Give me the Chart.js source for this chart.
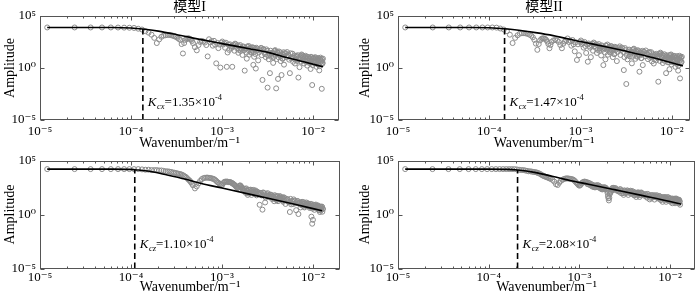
<!DOCTYPE html>
<html><head><meta charset="utf-8">
<script src="https://cdn.jsdelivr.net/npm/chart.js@4.4.1/dist/chart.umd.min.js"></script>
<style>
html,body{margin:0;padding:0;background:#fff;width:700px;height:296px;overflow:hidden;}
canvas{position:absolute;}
</style></head><body>
<canvas id="p1" width="350" height="152" style="left:0;top:0"></canvas>
<canvas id="p2" width="350" height="152" style="left:350px;top:0"></canvas>
<canvas id="p3" width="350" height="148" style="left:0;top:148px"></canvas>
<canvas id="p4" width="350" height="148" style="left:350px;top:148px"></canvas>
<script>
// ---------------- text ----------------
const panelTitles = ['模型I', '模型II', '', ''];
const xAxisTitle = 'Wavenumber/m⁻¹';
const yAxisTitle = 'Amplitude';
const xTickValues = [1e-5, 1e-4, 1e-3, 1e-2];
const xTickLabels = ['10⁻⁵', '10⁻⁴', '10⁻³', '10⁻²'];
const yTickValues = [1e-5, 1, 1e5];
const yTickLabels = ['10⁻⁵', '10⁰', '10⁵'];
const xMinorTicks = [2e-5,3e-5,4e-5,5e-5,6e-5,7e-5,8e-5,9e-5,2e-4,3e-4,4e-4,5e-4,6e-4,7e-4,8e-4,9e-4,2e-3,3e-3,4e-3,5e-3,6e-3,7e-3,8e-3,9e-3];

// ---------------- data ----------------
const wavenumber = [
1.2e-5,2.4e-5,3.6e-5,4.8e-5,6.0e-5,7.2e-5,8.4e-5,9.6e-5,1.08e-4,1.2e-4,
1.32e-4,1.44e-4,1.56e-4,1.68e-4,1.8e-4,1.92e-4,2.04e-4,2.16e-4,2.28e-4,2.4e-4,
2.52e-4,2.64e-4,2.76e-4,2.88e-4,3.0e-4,3.12e-4,3.24e-4,3.36e-4,3.48e-4,3.6e-4,
3.72e-4,3.84e-4,3.96e-4,4.08e-4,4.2e-4,4.32e-4,4.44e-4,4.56e-4,4.68e-4,4.8e-4,
5.04e-4,5.28e-4,5.52e-4,5.76e-4,6.0e-4,6.24e-4,6.48e-4,6.72e-4,6.96e-4,7.2e-4,
7.44e-4,7.68e-4,7.92e-4,8.16e-4,8.4e-4,8.64e-4,8.88e-4,9.12e-4,9.36e-4,9.6e-4,
9.84e-4,1.008e-3,1.032e-3,1.056e-3,1.08e-3,1.104e-3,1.128e-3,1.152e-3,1.176e-3,1.2e-3,
1.224e-3,1.248e-3,1.272e-3,1.296e-3,1.32e-3,1.344e-3,1.368e-3,1.392e-3,1.416e-3,1.44e-3,
1.464e-3,1.488e-3,1.512e-3,1.536e-3,1.56e-3,1.584e-3,1.608e-3,1.632e-3,1.656e-3,1.68e-3,
1.704e-3,1.728e-3,1.752e-3,1.776e-3,1.8e-3,1.824e-3,1.848e-3,1.872e-3,1.896e-3,1.92e-3,
1.944e-3,1.968e-3,1.992e-3,2.016e-3,2.04e-3,2.064e-3,2.088e-3,2.112e-3,2.136e-3,2.16e-3,
2.184e-3,2.208e-3,2.232e-3,2.256e-3,2.28e-3,2.304e-3,2.328e-3,2.352e-3,2.376e-3,2.4e-3,
2.448e-3,2.496e-3,2.544e-3,2.592e-3,2.64e-3,2.688e-3,2.736e-3,2.784e-3,2.832e-3,2.88e-3,
2.928e-3,2.976e-3,3.024e-3,3.072e-3,3.12e-3,3.168e-3,3.216e-3,3.264e-3,3.312e-3,3.36e-3,
3.408e-3,3.456e-3,3.504e-3,3.552e-3,3.6e-3,3.648e-3,3.696e-3,3.744e-3,3.792e-3,3.84e-3,
3.888e-3,3.936e-3,3.984e-3,4.032e-3,4.08e-3,4.128e-3,4.176e-3,4.224e-3,4.272e-3,4.32e-3,
4.368e-3,4.416e-3,4.464e-3,4.512e-3,4.56e-3,4.608e-3,4.656e-3,4.704e-3,4.752e-3,4.8e-3,
4.896e-3,4.992e-3,5.088e-3,5.184e-3,5.28e-3,5.376e-3,5.472e-3,5.568e-3,5.664e-3,5.76e-3,
5.856e-3,5.952e-3,6.048e-3,6.144e-3,6.24e-3,6.336e-3,6.432e-3,6.528e-3,6.624e-3,6.72e-3,
6.816e-3,6.912e-3,7.008e-3,7.104e-3,7.2e-3,7.296e-3,7.392e-3,7.488e-3,7.584e-3,7.68e-3,
7.776e-3,7.872e-3,7.968e-3,8.064e-3,8.16e-3,8.256e-3,8.352e-3,8.448e-3,8.544e-3,8.64e-3,
8.736e-3,8.832e-3,8.928e-3,9.024e-3,9.12e-3,9.216e-3,9.312e-3,9.408e-3,9.504e-3,9.6e-3,
9.696e-3,9.792e-3,9.888e-3,9.984e-3,1.008e-2,1.0176e-2,1.0272e-2,1.0368e-2,1.0464e-2,1.056e-2,
1.0656e-2,1.0752e-2,1.0848e-2,1.0944e-2,1.104e-2,1.1136e-2,1.1232e-2,1.1328e-2,1.1424e-2,1.152e-2,
1.1616e-2,1.1712e-2,1.1808e-2,1.1904e-2,1.2e-2,1.2096e-2,1.2192e-2,1.2288e-2,1.2384e-2,1.248e-2,
1.2576e-2,1.2672e-2,1.2768e-2,1.2864e-2
];

// 模型I (top-left)
const ampModelI_top = [
7.9e3,7.9e3,7.9e3,7.9e3,7.9e3,7.8e3,7.6e3,7.4e3,7.1e3,6.0e3,
5.0e3,3.5e3,2.5e3,1.6e3,7.9e2,2.5e2,5.6e2,1.0e3,1.3e3,1.4e3,
1.5e3,1.5e3,1.4e3,1.3e3,1.1e3,1.0e3,7.9e2,6.3e2,5.0e2,2.0e2,
25,2.5e2,5.0e2,6.3e2,7.1e2,7.1e2,6.3e2,5.2e2,4.0e2,2.5e2,
1.0e2,50,1.6e2,3.2e2,4.0e2,3.5e2,2.8e2,1.6e2,13,5.8e2,
2.9e2,3.8e2,1.4e2,4.1e2,1.8e2,2.8,2.6e2,81,1.8e2,1.1,
2.7e2,3.5e2,1.8e2,2.4e2,89,2.7e2,1.3,31,1.8e2,55,
1.9e2,1.2e2,83,1.3,1.3e2,1.7e2,46,2.2e2,1.9e2,1.1e2,
79,1.5e2,29,54,1.2e2,1.6e2,43,68,78,18,
1.2e2,1.0e2,52,0.56,81,68,30,7.9,1.2e2,1.0e2,
54,1.3e2,19,69,81,91,30,34,55,1.0e2,
87,2.0,37,12,59,66,22,0.89,89,46,
72,5.4,31,66,48,87,17,0.071,69,58,
30,21,11,62,44,0.013,16,6.9,29,0.32,
46,12,19,26,30,3.1,11,40,46,52,
19,0.011,7.2,35,30,0.089,11,39,20,17,
32,4.6,14,0.21,21,8.1,7.9,18,33,2.1,
27,26,11,34,17,17,6.3,0.32,26,8.1,
11,24,4.0,10,16,2.7,5.9,15,11,4.7,
17,0.12,7.2,1.2,11,15,4.1,20,17,10,
7.2,14,2.7,5.0,11,15,4.1,6.5,7.6,1.7,
12,10,5.1,3.2,7.9,6.8,3.0,0.81,12,10,
5.4,0.023,1.9,7.1,8.1,9.5,3.0,3.5,5.6,11,
8.9,4.7,3.9,1.3,6.2,7.1,2.3,2.2,9.3,4.9,
4.1,0.59,1.5,7.6,6.3,10,2.3,5.2,4.4,0.01,
6.9,2.6,3.1,7.9
];
// 模型II (top-right)
const ampModelII_top = [
7.9e3,7.9e3,7.9e3,7.9e3,7.9e3,7.9e3,7.9e3,7.9e3,7.9e3,7.6e3,
6.3e3,5.0e3,3.5e3,1.6e3,2.5e2,7.9e2,1.4e3,2.0e3,2.2e3,2.2e3,
2.1e3,1.9e3,1.6e3,1.3e3,8.9e2,5.0e2,2.2e2,56,2.0e2,4.5e2,
6.3e2,7.1e2,7.1e2,6.3e2,5.0e2,3.5e2,2.0e2,79,1.6e2,3.2e2,
4.5e2,5.0e2,4.5e2,3.2e2,1.6e2,79,2.2e2,3.5e2,4.0e2,6.9e2,
3.2e2,4.4e2,1.4e2,4.9e2,1.9e2,40,3.0e2,5.9,1.9e2,17,
3.2e2,4.4e2,2.0e2,2.8e2,91,3.2e2,1.3e2,28,2.0e2,4.0,
2.3e2,1.3e2,89,11,1.5e2,2.1e2,46,2.8e2,2.3e2,1.3e2,
87,1.8e2,28,56,1.4e2,2.0e2,45,76,89,16,
1.5e2,1.2e2,58,1.9,95,78,31,6.8,1.5e2,1.3e2,
60,1.8e2,19,81,98,1.1e2,32,37,63,1.3e2,
1.1e2,50,42,11,69,83,22,22,1.1e2,55,
91,4.6,35,85,58,1.2e2,18,54,91,74,
35,0.63,11,81,55,0.029,17,6.8,35,50,
59,13,22,32,38,2.8,12,51,62,72,
23,33,7.6,47,38,15,12,52,25,20,
42,0.44,16,33,28,8.9,8.9,22,45,1.9,
36,35,13,48,22,22,7.1,30,35,9.5,
13,33,4.3,13,21,2.7,6.9,20,14,5.4,
23,13,8.9,0.048,15,21,4.8,30,24,13,
9.1,19,3.0,6.0,15,21,4.8,8.3,9.8,0.32,
17,13,6.3,3.6,11,8.9,3.5,0.76,18,14,
6.9,20,2.2,9.5,11,13,3.6,4.4,7.4,15,
13,6.0,4.9,1.3,8.3,9.8,2.7,2.6,14,6.6,
5.4,0.56,1.7,11,8.9,15,2.9,0.1,5.9,10,
10,3.3,3.9,12
];
// 模型I (bottom-left)
const ampModelI_bottom = [
1.6e4,1.6e4,1.6e4,1.6e4,1.6e4,1.6e4,1.6e4,1.6e4,1.6e4,1.6e4,
1.5e4,1.4e4,1.4e4,1.3e4,1.3e4,1.3e4,1.2e4,1.2e4,1.1e4,1.0e4,
1.0e4,9.3e3,8.7e3,7.9e3,7.4e3,6.8e3,6.3e3,5.9e3,5.5e3,5.0e3,
4.4e3,3.6e3,3.2e3,2.6e3,2.0e3,1.6e3,1.3e3,9.5e2,7.1e2,5.0e2,
2.6e2,4.0e2,7.6e2,1.3e3,1.9e3,2.3e3,2.5e3,2.6e3,2.6e3,2.5e3,
2.4e3,2.2e3,2.1e3,1.9e3,1.6e3,1.3e3,1.0e3,8.9e2,7.1e2,6.3e2,
5.4e2,5.6e2,7.9e2,1.0e3,1.1e3,1.1e3,1.1e3,1.1e3,1.0e3,1.0e3,
9.8e2,9.5e2,8.7e2,7.9e2,7.1e2,6.3e2,5.6e2,5.0e2,4.2e2,3.5e2,
3.0e2,2.8e2,3.2e2,4.0e2,4.6e2,5.0e2,4.4e2,3.5e2,3.0e2,2.4e2,
1.9e2,1.6e2,2.2e2,2.5e2,1.3e2,1.0e2,2.6e2,1.6e2,1.7e2,65,
89,1.9e2,1.9e2,98,1.1e2,2.0e2,1.4e2,65,1.8e2,1.1e2,
1.1e2,1.9e2,1.3e2,1.3e2,81,89,1.7e2,1.4e2,1.1e2,59,
1.3e2,93,83,7.9,98,1.0e2,58,2.8,1.1e2,1.0e2,
71,13,37,58,78,95,47,63,58,42,
71,66,44,27,52,44,31,17,62,49,
40,26,21,52,46,17,28,30,35,51,
43,35,27,23,32,37,19,15,40,25,
34,9.5,21,27,25,14,14,1.7,28,8.7,
18,15,9.3,25,19,17,11,2.5,14,18,
17,1.1,11,11,13,4.5,7.8,13,15,6.8,
10,14,5.4,4.5,11,7.9,6.9,13,8.7,9.1,
11,6.2,6.8,9.8,8.1,4.0,4.9,6.5,9.8,0.63,
6.5,0.14,3.5,0.32,7.4,8.1,4.6,2.7,5.8,4.8,
7.2,8.3,4.6,5.6,5.5,3.9,3.4,6.2,6.8,2.6,
4.5,4.2,2.5,1.7,5.2,4.9,3.2,2.6,4.1,5.5,
5.1,1.8,3.3,3.2
];
// 模型II (bottom-right)
const ampModelII_bottom = [
1.6e4,1.6e4,1.6e4,1.6e4,1.6e4,1.6e4,1.6e4,1.6e4,1.6e4,1.6e4,
1.6e4,1.6e4,1.6e4,1.6e4,1.6e4,1.6e4,1.5e4,1.4e4,1.3e4,1.3e4,
1.2e4,1.1e4,1.0e4,1.0e4,9.3e3,8.7e3,8.3e3,7.9e3,7.1e3,6.3e3,
5.5e3,4.6e3,4.0e3,3.5e3,3.2e3,2.9e3,2.7e3,2.5e3,2.2e3,2.0e3,
1.6e3,1.1e3,6.3e2,5.4e2,8.9e2,1.3e3,1.6e3,1.9e3,2.1e3,2.2e3,
2.2e3,2.1e3,2.0e3,1.9e3,1.8e3,1.6e3,1.3e3,1.0e3,7.9e2,6.3e2,
5.0e2,4.7e2,5.6e2,7.6e2,9.3e2,1.0e3,1.1e3,1.1e3,1.0e3,1.0e3,
6.5e2,8.9e2,6.0e2,7.9e2,5.0e2,6.6e2,4.2e2,5.6e2,3.6e2,5.0e2,
3.3e2,4.7e2,3.3e2,5.0e2,3.5e2,5.2e2,3.4e2,4.8e2,3.0e2,4.0e2,
2.6e2,3.5e2,2.2e2,3.0e2,2.1e2,3.2e2,2.3e2,3.3e2,2.3e2,3.2e2,
2.1e2,2.8e2,2.3e2,1.6e2,1.0e2,50,32,20,35,79,
1.0e2,1.3e2,1.3e2,2.2e2,1.8e2,2.8e2,2.0e2,3.0e2,2.0e2,2.8e2,
2.6e2,2.8e2,1.7e2,2.0e2,2.0e2,1.4e2,1.3e2,2.1e2,2.2e2,95,
1.6e2,1.4e2,95,66,1.7e2,1.6e2,1.1e2,95,1.3e2,1.7e2,
1.6e2,65,1.1e2,1.1e2,1.3e2,1.6e2,83,1.2e2,1.5e2,85,
1.0e2,1.3e2,65,59,1.1e2,89,78,42,93,1.0e2,
1.1e2,62,76,1.1e2,89,42,60,71,1.0e2,1.1e2,
93,78,63,55,72,79,47,36,81,55,
58,25,35,60,62,36,41,63,49,24,
58,40,40,62,46,45,30,32,52,48,
38,22,23,33,42,15,28,38,34,23,
40,41,28,15,32,26,21,41,38,30,
28,21,17,32,30,15,20,23,25,11,
30,26,21,16,24,29,16,11,29,19,
21,30,13,22,23,16,16,24,19,11,
23,17,16,8.1
];

// fitted curves
const fitK_I_top = [1.2e-5,6.3e-5,1.0e-4,1.35e-4,2.0e-4,3.2e-4,5.0e-4,1.0e-3,2.0e-3,3.2e-3,5.0e-3,7.9e-3,1.29e-2];
const fitA_I_top = [7.9e3,7.9e3,7.1e3,5.6e3,3.5e3,1.6e3,7.1e2,2.2e2,71,32,11,4.0,1.3];
const fitK_II_top = [1.2e-5,6.3e-5,1.0e-4,1.47e-4,2.0e-4,3.2e-4,5.0e-4,1.0e-3,2.0e-3,3.2e-3,5.0e-3,7.9e-3,1.32e-2];
const fitA_II_top = [7.9e3,7.9e3,7.4e3,6.0e3,4.5e3,2.5e3,1.3e3,3.5e2,1.0e2,40,16,5.6,1.6];
const fitK_I_bottom = [1.2e-5,6.3e-5,1.0e-4,1.1e-4,1.6e-4,2.5e-4,4.0e-4,5.8e-4,1.0e-3,2.5e-3,6.3e-3,1.26e-2];
const fitA_I_bottom = [1.6e4,1.6e4,1.5e4,1.4e4,1.0e4,4.5e3,1.8e3,7.9e2,2.8e2,50,8.9,2.2];
const fitK_II_bottom = [1.2e-5,1.0e-4,1.6e-4,2.08e-4,3.2e-4,5.0e-4,7.9e-4,1.26e-3,2.5e-3,5.0e-3,1.0e-2,1.32e-2];
const fitA_II_bottom = [1.6e4,1.6e4,1.5e4,1.3e4,7.9e3,3.5e3,1.4e3,6.3e2,1.9e2,56,16,8.9];

// cut-off wavenumbers
const kcValues = [1.35e-4, 1.47e-4, 1.10e-4, 2.08e-4];
const kcCurveValues = [5.6e3, 6.0e3, 1.4e4, 1.3e4];
const kcMantissa = ['1.35', '1.47', '1.10', '2.08'];
const kcExponent = ['-4', '-4', '-4', '-4'];
const kcSubscript = ['cx', 'cx', 'cz', 'cz'];

// ---------------- drawing ----------------
const SERIF = "'Liberation Serif', 'DejaVu Serif', serif";
const TITLE_FONT = "'Liberation Serif', 'Noto Sans CJK SC', serif";
const FRAME = '#555555';

const framePlugin = {
  id: 'matFrame',
  afterDatasetsDraw(chart) {
    const {ctx, chartArea: a} = chart;
    const xs = chart.scales.x, ys = chart.scales.y;
    const L = Math.round(a.left) + 0.5, R = Math.round(a.right) - 0.5;
    const T = Math.round(a.top) + 0.5, B = Math.round(a.bottom) - 0.5;
    ctx.save();
    ctx.strokeStyle = FRAME; ctx.lineWidth = 1;
    ctx.strokeRect(L, T, R - L, B - T);
    const seg = (x1, y1, x2, y2) => { ctx.beginPath(); ctx.moveTo(x1, y1); ctx.lineTo(x2, y2); ctx.stroke(); };
    const xmax = xs.max;
    for (const v of xTickValues) {
      if (v > xmax) continue;
      const p = Math.round(xs.getPixelForValue(v)) + 0.5;
      seg(p, B, p, B - 4); seg(p, T, p, T + 4);
    }
    for (const v of xMinorTicks) {
      if (v > xmax) continue;
      const p = Math.round(xs.getPixelForValue(v)) + 0.5;
      seg(p, B, p, B - 2); seg(p, T, p, T + 2);
    }
    for (const v of yTickValues) {
      const p = Math.round(ys.getPixelForValue(v)) + 0.5;
      seg(L, p, L + 4, p); seg(R, p, R - 4, p);
    }
    ctx.restore();
  }
};

const kcLabelPlugin = {
  id: 'kcLabel',
  afterDatasetsDraw(chart, args, o) {
    const {ctx} = chart;
    const xs = chart.scales.x, ys = chart.scales.y;
    let px = xs.getPixelForValue(o.kc) + o.dx;
    const py = ys.getPixelForValue(o.at);
    ctx.save();
    ctx.fillStyle = '#000'; ctx.textAlign = 'left'; ctx.textBaseline = 'alphabetic';
    const parts = [
      ['K', 'italic 13px ' + SERIF, 0],
      [o.sub, 'italic 8.5px ' + SERIF, 3],
      ['=' + o.mant + '×10', '13px ' + SERIF, 0],
      [o.exp, '8.5px ' + SERIF, -6]
    ];
    for (const [t, f, dy] of parts) {
      ctx.font = f; ctx.fillText(t, px, py + dy); px += ctx.measureText(t).width + (t === 'K' ? 0.5 : 0);
    }
    ctx.restore();
  }
};

const panels = [
  {id: 'p1', amp: ampModelI_top, fk: fitK_I_top, fa: fitA_I_top, idx: 0,
   pad: {left: 0, right: 11, top: 0, bottom: 0}, yw: 40, xh: 32, ytp: 1.6, xtp: 4, xmax: 0.0193, at: 2.2e-4},
  {id: 'p2', amp: ampModelII_top, fk: fitK_II_top, fa: fitA_II_top, idx: 1,
   pad: {left: 0, right: 10, top: 0, bottom: 0}, yw: 48, xh: 32, ytp: 7, xtp: 4, xmax: 0.0158, at: 2.2e-4},
  {id: 'p3', amp: ampModelI_bottom, fk: fitK_I_bottom, fa: fitA_I_bottom, idx: 2,
   pad: {left: 0, right: 10, top: 12.5, bottom: 0}, yw: 40, xh: 27.5, ytp: 1.6, xtp: 1, xmax: 0.0198, at: 7.9e-4},
  {id: 'p4', amp: ampModelII_bottom, fk: fitK_II_bottom, fa: fitA_II_bottom, idx: 3,
   pad: {left: 0, right: 3, top: 12.5, bottom: 0}, yw: 48, xh: 27.5, ytp: 7, xtp: 1, xmax: 0.0188, at: 7.9e-4}
];

for (const p of panels) {
  const i = p.idx;
  const title = panelTitles[i];
  new Chart(document.getElementById(p.id), {
    type: 'scatter',
    data: {
      datasets: [
        {type: 'line', data: p.fk.map((k, j) => ({x: k, y: p.fa[j]})), borderColor: '#000', borderWidth: 1.6,
         pointRadius: 0, fill: false, cubicInterpolationMode: 'monotone', order: 1},
        {type: 'line', data: [{x: kcValues[i], y: 1e-5}, {x: kcValues[i], y: kcCurveValues[i]}], borderColor: '#000',
         borderWidth: 1.6, borderDash: [6, 3.5], pointRadius: 0, fill: false, order: 0},
        {type: 'scatter', data: wavenumber.map((k, j) => ({x: k, y: p.amp[j]})), pointStyle: 'circle', pointRadius: 2.5,
         borderColor: 'rgb(140,140,140)', borderWidth: 1.0, backgroundColor: 'rgba(0,0,0,0)', order: 2}
      ]
    },
    options: {
      responsive: false, animation: false, events: [],
      layout: {padding: p.pad},
      plugins: {
        legend: {display: false}, tooltip: {enabled: false},
        title: {display: !!title, text: title, fullSize: false, color: '#000',
                font: {family: TITLE_FONT, size: 14, weight: 'normal', lineHeight: 1.1}, padding: {top: 0, bottom: 0.6}},
        kcLabel: {kc: kcValues[i], dx: 5, at: p.at, sub: kcSubscript[i], mant: kcMantissa[i], exp: kcExponent[i]}
      },
      scales: {
        x: {
          type: 'logarithmic', position: 'bottom', min: 1e-5, max: p.xmax,
          grid: {display: false, drawTicks: false}, border: {display: false},
          afterBuildTicks: s => { s.ticks = xTickValues.map(v => ({value: v})); },
          afterFit: s => { s.height = p.xh; },
          ticks: {autoSkip: false, maxRotation: 0, padding: p.xtp, color: '#000',
                  font: {family: SERIF, size: 13}, callback: (v, j) => xTickLabels[j]},
          title: {display: true, text: xAxisTitle, color: '#000', font: {family: SERIF, size: 14, lineHeight: 1.2},
                  padding: {top: 0, bottom: 0}}
        },
        y: {
          type: 'logarithmic', position: 'left', min: 1e-5, max: 1e5,
          grid: {display: false, drawTicks: false}, border: {display: false},
          afterBuildTicks: s => { s.ticks = yTickValues.map(v => ({value: v})); },
          afterFit: s => { s.width = p.yw; },
          ticks: {autoSkip: false, padding: 4, color: '#000',
                  font: {family: SERIF, size: 13}, callback: (v, j) => yTickLabels[j]},
          title: {display: true, text: yAxisTitle, color: '#000', font: {family: SERIF, size: 14, lineHeight: 1.2},
                  padding: {top: p.ytp, bottom: 0}}
        }
      }
    },
    plugins: [framePlugin, kcLabelPlugin]
  });
}
</script>
</body></html>
